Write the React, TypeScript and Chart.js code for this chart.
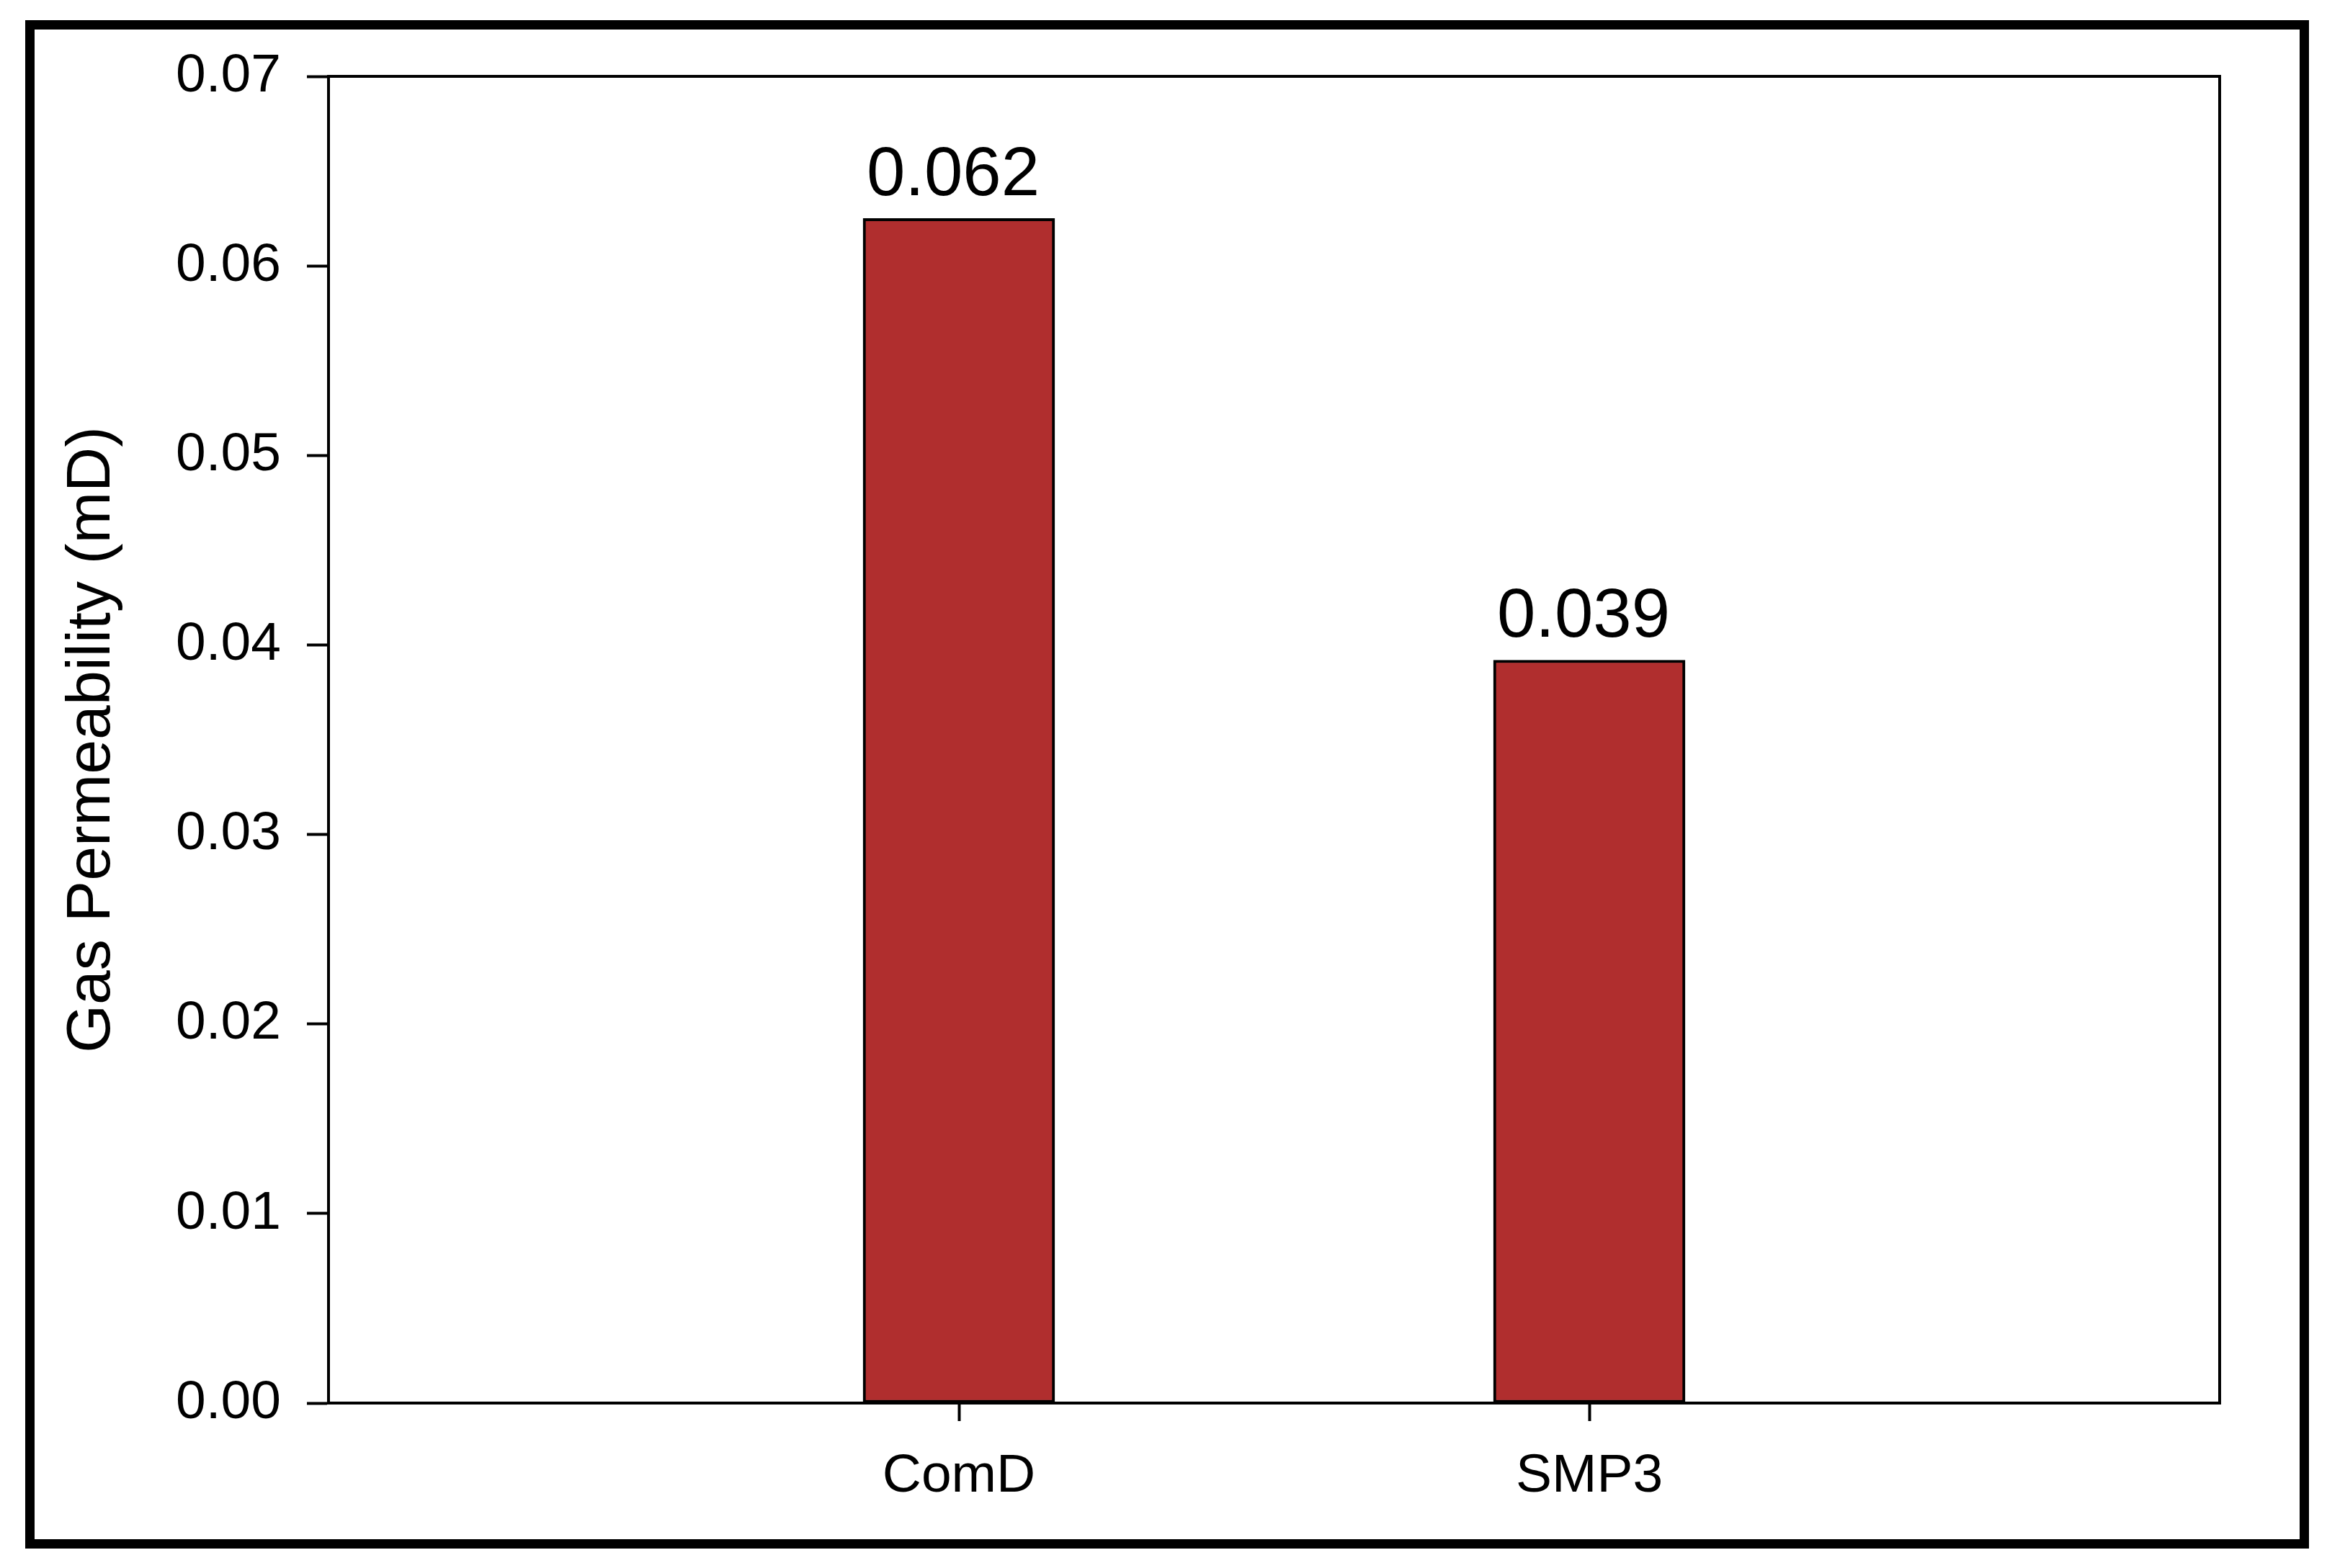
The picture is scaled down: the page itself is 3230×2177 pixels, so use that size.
import React, { useEffect, useRef } from 'react';
import { Chart, registerables } from 'chart.js';

Chart.register(...registerables);

// ---- Data ----
const categories = ['ComD', 'SMP3'];
const categoryPositions = [1, 2];
const permeability = [0.0625, 0.0392];
const valueLabels = ['0.062', '0.039'];
const yTickValues = [0, 0.01, 0.02, 0.03, 0.04, 0.05, 0.06, 0.07];
const yTickLabels = ['0.00', '0.01', '0.02', '0.03', '0.04', '0.05', '0.06', '0.07'];
const yAxisTitle = 'Gas Permeability (mD)';

const FONT = '"Liberation Sans", Arial, Helvetica, sans-serif';
const BAR_COLOR = '#B02E2E';

const framePlugin = {
  id: 'frameAndBox',
  beforeDraw(chart: any) {
    const { ctx, width, height } = chart;
    ctx.save();
    ctx.fillStyle = '#ffffff';
    ctx.fillRect(0, 0, width, height);
    ctx.strokeStyle = '#000000';
    ctx.lineWidth = 13;
    ctx.strokeRect(41.5, 34.5, 3157, 2109);
    ctx.restore();
  },
  afterDraw(chart: any) {
    const { ctx, chartArea } = chart;
    ctx.save();
    ctx.strokeStyle = '#000000';
    ctx.lineWidth = 4;
    ctx.beginPath();
    ctx.moveTo(chartArea.left - 2, chartArea.top);
    ctx.lineTo(chartArea.right, chartArea.top);
    ctx.lineTo(chartArea.right, chartArea.bottom + 2);
    ctx.stroke();
    ctx.restore();
  },
};

const valueLabelPlugin = {
  id: 'valueLabels',
  afterDatasetsDraw(chart: any) {
    const { ctx } = chart;
    const meta = chart.getDatasetMeta(0);
    ctx.save();
    ctx.fillStyle = '#000000';
    ctx.font = `96px ${FONT}`;
    ctx.textAlign = 'center';
    ctx.textBaseline = 'alphabetic';
    meta.data.forEach((bar: any, i: number) => {
      ctx.fillText(valueLabels[i], bar.x - 8, bar.y - 32);
    });
    ctx.restore();
  },
};

export default function App() {
  const canvasRef = useRef<HTMLCanvasElement | null>(null);

  useEffect(() => {
    if (!canvasRef.current) return;
    const chart = new Chart(canvasRef.current, {
      type: 'bar',
      data: {
        datasets: [
          {
            data: categoryPositions.map((x, i) => ({ x, y: permeability[i] })),
            backgroundColor: BAR_COLOR,
            borderColor: '#000000',
            borderWidth: 4,
            borderSkipped: false,
            barThickness: 266,
          } as any,
        ],
      },
      options: {
        animation: false,
        responsive: false,
        layout: { padding: { top: 106, right: 149, left: 0, bottom: 0 } },
        plugins: {
          legend: { display: false },
          tooltip: { enabled: false },
          title: { display: false },
        },
        scales: {
          x: {
            type: 'linear',
            min: 0,
            max: 3,
            offset: false,
            grid: {
              offset: false,
              drawOnChartArea: false,
              drawTicks: true,
              tickLength: 25,
              tickWidth: 4,
              tickColor: '#000000',
            },
            border: { display: true, color: '#000000', width: 4 },
            ticks: {
              color: '#000000',
              font: { family: FONT, size: 75 },
              padding: 32,
              maxRotation: 0,
              autoSkip: false,
              callback: (_v: any, i: number) => categories[i],
            },
            afterBuildTicks: (scale: any) => {
              scale.ticks = categoryPositions.map((v) => ({ value: v }));
            },
            afterFit: (scale: any) => {
              scale.height = 229;
            },
          } as any,
          y: {
            type: 'linear',
            min: 0,
            max: 0.07,
            grid: {
              offset: false,
              drawOnChartArea: false,
              drawTicks: true,
              tickLength: 30,
              tickWidth: 4,
              tickColor: '#000000',
            },
            border: { display: true, color: '#000000', width: 4 },
            ticks: {
              color: '#000000',
              font: { family: FONT, size: 75 },
              padding: 36,
              autoSkip: false,
              callback: (_v: any, i: number) => yTickLabels[i],
            },
            afterBuildTicks: (scale: any) => {
              scale.ticks = yTickValues.map((v) => ({ value: v }));
            },
            title: {
              display: true,
              text: yAxisTitle,
              color: '#000000',
              font: { family: FONT, size: 86 },
              padding: { top: 77, bottom: 0 },
            },
            afterFit: (scale: any) => {
              scale.width = 456;
            },
          } as any,
        },
      },
      plugins: [framePlugin, valueLabelPlugin],
    });
    return () => chart.destroy();
  }, []);

  return (
    <div style={{ position: 'absolute', left: 0, top: 0, width: 3230, height: 2177, background: '#fff' }}>
      <canvas ref={canvasRef} width={3230} height={2177} style={{ display: 'block', width: 3230, height: 2177 }} />
    </div>
  );
}
